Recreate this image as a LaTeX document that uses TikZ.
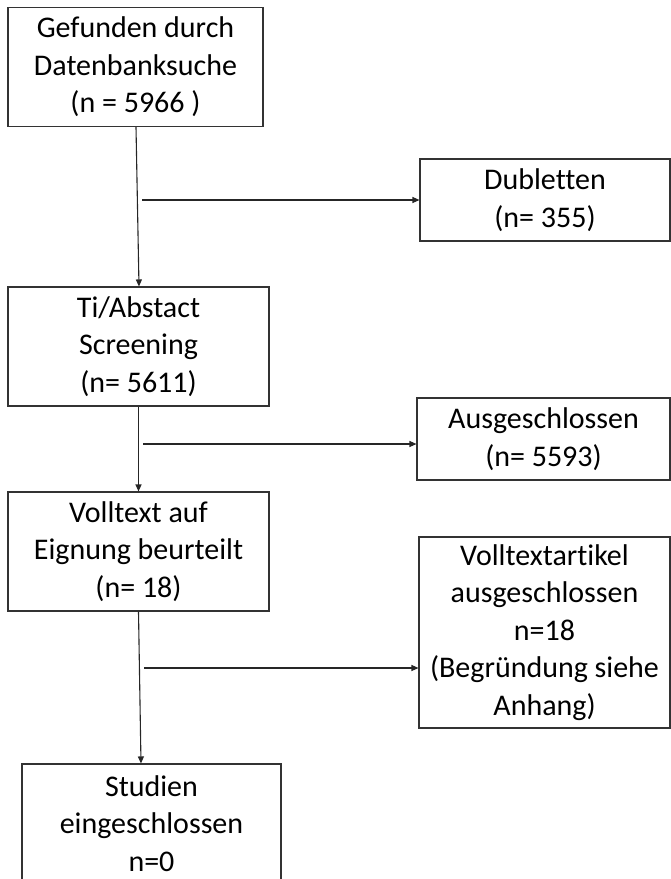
\documentclass[tikz,border=0pt]{standalone}
\usepackage{fontspec}
\setmainfont[Ligatures=NoCommon]{Carlito}
\usetikzlibrary{arrows.meta,calc}
\begin{document}
\begin{tikzpicture}[x=1pt,y=-1pt,
  box/.style={draw=black!80,line width=1.1pt,align=center,inner sep=0pt,
    font=\fontsize{30}{37.5}\selectfont,text=black},
  conn/.style={draw=black!85,line width=1.1pt},
  arr/.style={conn,-{Triangle[length=7pt,width=6pt]}}]
\useasboundingbox (0,0) rectangle (671,879);
\node[box,minimum width=255pt,minimum height=119pt] (b1) at (135.5,67) {Gefunden durch\\Datenbanksuche\\(n = 5966 )};
\node[box,minimum width=261pt,minimum height=119pt] (b2) at (138.5,346.5) {Ti/Abstact\\Screening\\(n= 5611)};
\node[box,minimum width=261pt,minimum height=119pt] (b3) at (138.5,551.5) {Volltext auf\\Eignung beurteilt\\(n= 18)};
\node[box,minimum width=259pt,minimum height=119pt] (b4) at (151.5,823.5) {Studien\\eingeschlossen\\n=0};
\node[box,minimum width=250pt,minimum height=82pt] (d1) at (545,200) {Dubletten\\(n= 355)};
\node[box,minimum width=253pt,minimum height=82pt] (d2) at (543.5,439) {Ausgeschlossen\\(n= 5593)};
\node[box,minimum width=251pt,minimum height=191pt] (d3) at (544.5,632.5) {Volltextartikel\\ausgeschlossen\\n=18\\(Begründung siehe\\Anhang)};
\coordinate (j1) at (142,200);
\coordinate (j2) at (143,444);
\coordinate (j3) at (144,668);
\draw[arr] ($(b1.south)+(0.5,0)$) -- ($(b2.north)+(0.5,0)$);
\draw[arr] (b2.south) -- (b3.north);
\draw[arr] (b3.south) -- ($(b4.north)+(-10.5,0)$);
\draw[arr] (j1) -- (j1 -| d1.west);
\draw[arr] (j2) -- (j2 -| d2.west);
\draw[arr] (j3) -- (j3 -| d3.west);
\end{tikzpicture}
\end{document}
